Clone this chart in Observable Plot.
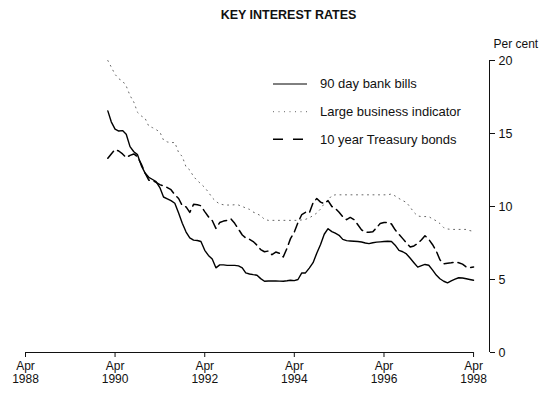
<!DOCTYPE html>
<html><head><meta charset="utf-8">
<script src="https://cdn.jsdelivr.net/npm/d3@7"></script>
<script src="https://cdn.jsdelivr.net/npm/@observablehq/plot@0.6"></script>
<style>
html,body{margin:0;padding:0;background:#fff;}
#chart svg{display:block;font-family:"Liberation Sans",Arial,Helvetica,sans-serif;}
</style></head><body><div id="chart"></div>
<script>
// Monthly data, Feb 1990 .. Apr 1998 (per cent)
const firstYear = 1990, firstMonth = 1; // Feb (0-based month)
const bankBills = [16.55,15.8,15.3,15.17,15.2,14.95,14.1,13.75,13.55,12.8,
  12.3,12.0,11.85,11.7,11.3,10.65,10.53,10.4,10.22,9.55,
  8.85,8.25,7.85,7.7,7.67,7.6,7.0,6.65,6.4,5.8,
  6.0,6.0,5.97,5.97,5.97,5.93,5.8,5.45,5.38,5.33,
  5.29,5.06,4.88,4.9,4.9,4.9,4.89,4.88,4.91,4.95,
  4.92,5.0,5.45,5.45,5.78,6.15,6.8,7.4,8.1,8.48,
  8.28,8.17,8.03,7.75,7.66,7.64,7.62,7.6,7.57,7.5,
  7.46,7.52,7.56,7.58,7.6,7.62,7.6,7.35,7.0,6.9,
  6.75,6.45,6.15,5.85,5.95,6.03,5.98,5.66,5.3,5.05,
  4.88,4.77,4.9,5.02,5.12,5.1,5.05,5.0,4.95];
const largeBusiness = [20.0,19.55,19.05,18.75,18.6,18.25,17.6,17.15,16.45,16.2,
  16.05,15.5,15.4,15.27,15.1,14.55,14.42,14.38,14.38,13.7,
  13.42,12.7,12.5,12.05,11.77,11.55,11.3,10.98,10.6,10.35,
  10.17,10.12,10.1,10.1,10.12,10.1,10.0,9.9,9.8,9.62,
  9.5,9.37,9.12,9.05,9.05,9.05,9.05,9.05,9.05,9.05,
  9.05,9.05,9.08,9.12,9.22,9.38,9.55,9.83,10.2,10.45,
  10.75,10.8,10.8,10.8,10.8,10.8,10.8,10.8,10.8,10.8,
  10.8,10.8,10.8,10.8,10.8,10.8,10.86,10.72,10.55,10.4,
  10.28,9.95,9.6,9.35,9.31,9.31,9.31,9.15,9.02,8.83,
  8.55,8.46,8.43,8.43,8.43,8.43,8.43,8.35,8.3];
const treasuryBonds = [13.3,13.6,13.9,13.8,13.6,13.35,13.5,13.6,13.4,12.9,
  12.3,11.8,11.77,11.65,11.5,11.4,11.3,11.15,10.8,10.55,
  10.06,9.97,9.6,10.15,10.12,10.05,9.65,9.3,9.04,8.5,
  8.9,9.0,9.05,9.15,8.85,8.45,8.05,7.85,7.75,7.6,
  7.35,7.05,6.9,6.95,6.7,6.88,6.8,6.55,7.15,7.8,
  8.25,8.9,9.45,9.6,9.55,10.25,10.55,10.3,10.2,10.4,
  10.0,9.88,9.6,9.3,9.1,9.25,9.1,8.75,8.4,8.24,
  8.24,8.27,8.55,8.84,8.9,8.92,8.8,8.4,8.1,7.8,
  7.5,7.22,7.3,7.47,7.72,8.0,7.75,7.4,6.95,6.35,
  6.08,6.12,6.15,6.19,6.15,6.05,5.85,5.82,5.86];
const seriesNames = ["90 day bank bills", "Large business indicator", "10 year Treasury bonds"];
const tickYears = [1988, 1990, 1992, 1994, 1996, 1998];
const tickMonthName = "Apr";
const yTicks = [0, 5, 10, 15, 20];
const titleText = "KEY INTEREST RATES";
const unitText = "Per cent";

const FONT = '"Liberation Sans", Arial, Helvetica, sans-serif';
const toRows = (vals) => vals.map((v, i) => ({date: new Date(Date.UTC(firstYear, firstMonth + i, 1)), value: v}));
const tickDates = tickYears.map(y => new Date(Date.UTC(y, 3, 1)));
const xStart = tickDates[0], xAxisEnd = tickDates[tickDates.length - 1];
const xEnd = new Date(Date.UTC(1998, 7, 9));

const styles = [
  {stroke: "#000", strokeWidth: 1.4, dash: null, legendWidth: 1},
  {stroke: "#666", strokeWidth: 1, dash: "1,4.5", legendWidth: 1},
  {stroke: "#000", strokeWidth: 1.5, dash: "9,5", legendWidth: 1.5, legendDash: "10,10"}
];
const allSeries = [bankBills, largeBusiness, treasuryBonds];

const chart = Plot.plot({
  width: 540, height: 399,
  marginTop: 60, marginBottom: 47, marginLeft: 25, marginRight: 51,
  style: {fontFamily: FONT, fontSize: "12px", color: "#111", background: "#fff"},
  x: {type: "utc", domain: [xStart, xEnd]},
  y: {domain: [0, 20]},
  marks: [
    Plot.ruleY([{a: xStart, b: xAxisEnd}], {y: 0, x1: "a", x2: "b", stroke: "#111", strokeWidth: 1}),
    Plot.ruleX([xEnd], {y1: 0, y2: 20, stroke: "#111", strokeWidth: 1}),
    Plot.axisX(tickDates, {tickSize: 5, tickPadding: 4, label: null, fontSize: 12, lineHeight: 1.05,
      tickFormat: d => `${tickMonthName}\n${d.getUTCFullYear()}`}),
    Plot.axisY(yTicks, {anchor: "right", tickSize: 5, tickPadding: 4, label: null, fontSize: 12.5}),
    ...[1, 2, 0].map(k => Plot.line(toRows(allSeries[k]), {
      x: "date", y: "value", stroke: styles[k].stroke, strokeWidth: styles[k].strokeWidth,
      strokeDasharray: styles[k].dash || undefined, strokeLinejoin: "round"
    })),
    Plot.text([titleText], {frameAnchor: "top", dx: 31, dy: -46, lineAnchor: "middle",
      fontWeight: "bold", fontSize: 12.5, fill: "#111"}),
    Plot.text([unitText], {frameAnchor: "top-right", dx: 4, dy: -16, lineAnchor: "middle",
      textAnchor: "start", fontSize: 12, fill: "#111"})
  ]
});
document.getElementById("chart").append(chart);

// Legend
const svg = d3.select(chart);
const legendY = [84, 111.7, 139.3];
const lg = svg.append("g").attr("class", "legend").attr("text-anchor", "start");
seriesNames.forEach((name, k) => {
  lg.append("line").attr("x1", 273).attr("x2", 307).attr("y1", legendY[k]).attr("y2", legendY[k])
    .attr("stroke", styles[k].stroke).attr("stroke-width", styles[k].legendWidth)
    .attr("stroke-dasharray", styles[k].legendDash || styles[k].dash || null);
  lg.append("text").attr("x", 320).attr("y", legendY[k]).attr("dy", "0.34em")
    .attr("text-anchor", "start")
    .attr("font-family", FONT).attr("font-size", 13).attr("fill", "#111").text(name);
});
</script></body></html>
